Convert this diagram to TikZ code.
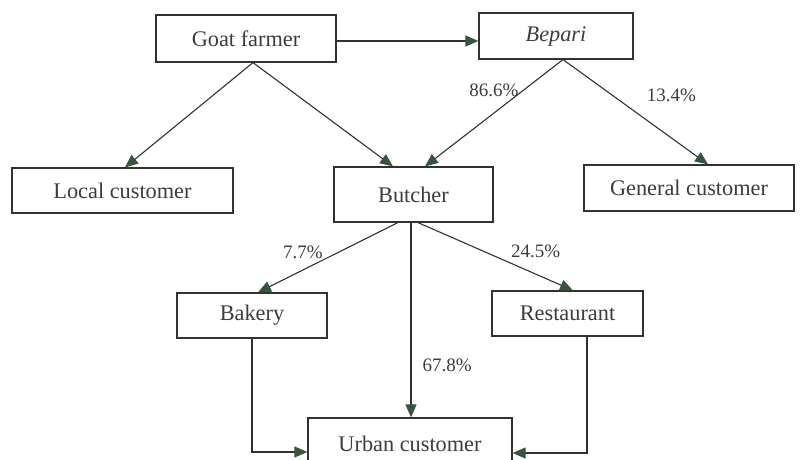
\documentclass[tikz,border=0pt]{standalone}
\usepackage{fontspec}
\setmainfont{Liberation Serif}
\usetikzlibrary{arrows.meta,calc}
\definecolor{linec}{RGB}{50,50,50}
\definecolor{tipc}{RGB}{55,85,62}
\definecolor{txtc}{RGB}{60,60,60}
\begin{document}
\begin{tikzpicture}[x=1pt,y=-1pt,
  box/.style={draw=linec,line width=1.2pt,fill=white,inner sep=0pt,font=\fontsize{22.3}{26}\selectfont,text=txtc},
  conn/.style={draw=linec,line width=1.1pt,-{Triangle[length=13pt,width=11pt,color=tipc,fill=tipc]}},
  pct/.style={font=\fontsize{19}{22}\selectfont,text=txtc,inner sep=0pt}]
\useasboundingbox (0,0) rectangle (801,460);
\clip (0,0) rectangle (801,460);
\fill[white] (0,0) rectangle (801,460);
\node[box,minimum width=180pt,minimum height=47pt] (gf) at (246,38.5) {Goat farmer};
\node[box,minimum width=154pt,minimum height=46pt] (bep) at (556,36) {\textit{Bepari}};
\node[box,minimum width=221pt,minimum height=45pt] (loc) at (122.5,190.5) {Local customer};
\node[box,minimum width=159pt,minimum height=55pt] (but) at (413.5,194.5) {Butcher};
\node[box,minimum width=210pt,minimum height=46pt] (gen) at (689,188) {General customer};
\node[box,minimum width=150pt,minimum height=45pt] (bak) at (252,315.5) {Bakery};
\node[box,minimum width=151pt,minimum height=45pt] (res) at (567.5,313.5) {Restaurant};
\node[box,minimum width=204pt,minimum height=52pt] (urb) at (410,444) {Urban customer};
\coordinate (bmid) at ([xshift=-2.5pt]but.south);
\coordinate (gfe) at ([yshift=-2.5pt]gf.east);
% connectors
\draw[conn] (gfe) -- (bep.west |- gfe);
\draw[conn] ([xshift=7pt]gf.south) -- ([xshift=2.5pt]loc.north);
\draw[conn] ([xshift=7pt]gf.south) -- ([xshift=-20.5pt]but.north);
\draw[conn] ([xshift=7pt]bep.south) -- ([xshift=11.5pt]but.north)
  node[pct,pos=0.29,anchor=east,xshift=-4pt] {86.6\%};
\draw[conn] ([xshift=7pt]bep.south) -- ([xshift=19pt]gen.north)
  node[pct,pos=0.34,anchor=west,xshift=34pt] {13.4\%};
\draw[conn] ([xshift=-15.5pt]but.south) -- ([xshift=6pt]bak.north)
  node[pct,pos=0.42,anchor=east,xshift=-16pt] {7.7\%};
\draw[conn] ([xshift=4.5pt]but.south) -- ([xshift=5.5pt]res.north)
  node[pct,pos=0.43,anchor=west,xshift=26pt] {24.5\%};
\draw[conn] (bmid) -- (bmid |- urb.north)
  node[pct,pos=0.735,anchor=west,xshift=11pt] {67.8\%};
\draw[conn] (bak.south) |- ([yshift=-8pt]urb.west);
\draw[conn] ([xshift=19.5pt]res.south) |- ([yshift=-9pt]urb.east);
\end{tikzpicture}
\end{document}
